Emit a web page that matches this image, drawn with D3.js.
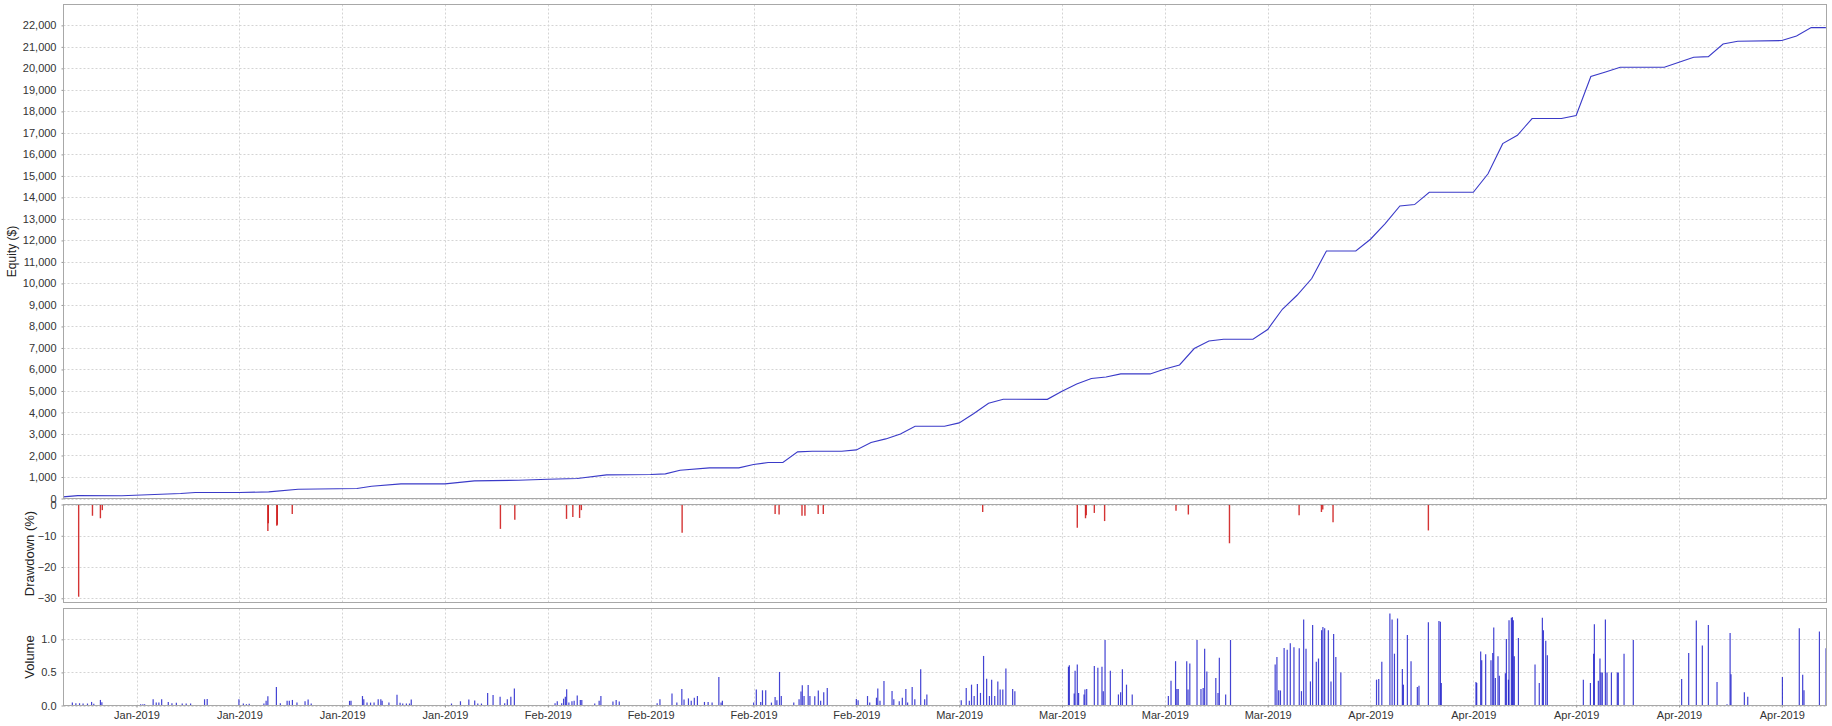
<!DOCTYPE html>
<html>
<head>
<meta charset="utf-8">
<script src="https://cdn.jsdelivr.net/npm/d3@7"></script>
<style>
  html, body { margin: 0; padding: 0; background: #fff; }
  svg { display: block; font-family: "Liberation Sans", Arial, sans-serif; }
</style>
</head>
<body>
<svg id="chart" width="1832" height="726"></svg>
<script>
// ---------------- DATA ----------------
const equityDates = ["2019-01-02","2019-01-03","2019-01-06","2019-01-10","2019-01-11","2019-01-14","2019-01-16","2019-01-18","2019-01-22","2019-01-23","2019-01-25","2019-01-28","2019-01-30","2019-02-02","2019-02-04","2019-02-06","2019-02-08","2019-02-11","2019-02-12","2019-02-13","2019-02-15","2019-02-17","2019-02-18","2019-02-19","2019-02-20","2019-02-21","2019-02-22","2019-02-24","2019-02-25","2019-02-26","2019-02-27","2019-02-28","2019-03-01","2019-03-03","2019-03-04","2019-03-05","2019-03-06","2019-03-07","2019-03-10","2019-03-11","2019-03-12","2019-03-13","2019-03-14","2019-03-15","2019-03-17","2019-03-18","2019-03-19","2019-03-20","2019-03-21","2019-03-22","2019-03-24","2019-03-25","2019-03-26","2019-03-27","2019-03-28","2019-03-29","2019-03-31","2019-04-01","2019-04-02","2019-04-03","2019-04-04","2019-04-05","2019-04-08","2019-04-09","2019-04-10","2019-04-11","2019-04-12","2019-04-14","2019-04-15","2019-04-16","2019-04-17","2019-04-18","2019-04-21","2019-04-22","2019-04-23","2019-04-24","2019-04-25","2019-04-26","2019-04-29","2019-04-30","2019-05-01","2019-05-02"];
const equityValues = [74,135,130,232,279,279,307,432,465,572,679,679,818,851,897,930,1098,1116,1144,1316,1423,1423,1581,1674,1674,2167,2199,2199,2259,2603,2771,3003,3361,3361,3515,3952,4430,4616,4610,4988,5328,5579,5653,5793,5793,6025,6211,6973,7327,7406,7406,7857,8800,9451,10228,11511,11511,12055,12785,13603,13668,14240,14240,15100,16500,16890,17666,17666,17806,19619,19833,20051,20051,20284,20516,20547,21134,21260,21293,21506,21897,21897];

// drawdown events: time in days since 2019-01-01 00:00 UTC, depth in %
const drawdownDays = [2.06,3.0,3.54,3.67,14.94,14.97,15.55,15.58,16.6,30.77,31.75,35.27,35.7,36.16,36.28,43.14,49.47,49.74,51.3,51.5,52.4,52.75,63.6,70.04,70.6,70.65,71.2,71.9,76.76,77.6,80.4,85.14,86.66,86.75,87.45,93.94];
const drawdownPct = [-29.5,-3.6,-4.4,-1.8,-8.5,-6.0,-6.8,-6.5,-3.0,-7.8,-4.9,-4.6,-4.0,-4.3,-1.8,-9.0,-3.0,-3.2,-3.6,-3.6,-3.0,-3.0,-2.4,-7.4,-4.4,-3.4,-2.7,-5.3,-2.0,-3.2,-12.4,-3.4,-2.4,-1.6,-5.7,-8.3];

// volume: time in days since 2019-01-01 00:00 UTC, volume in lots
const volumeDays = [1.63,1.87,2.12,2.36,2.66,2.94,3.09,3.54,3.64,6.28,6.43,6.55,7.13,7.34,7.52,7.71,8.16,8.41,8.71,9.11,9.38,9.68,10.63,10.81,12.97,13.27,13.48,13.67,14.67,14.82,14.94,15.52,15.79,16.25,16.4,16.61,16.92,17.47,17.68,17.89,20.5,20.6,21.38,21.47,21.69,21.93,22.17,22.45,22.63,22.72,23.18,23.73,23.94,24.12,24.37,24.58,24.7,27.44,28.05,28.62,29.02,29.23,29.48,29.9,30.27,30.75,31.06,31.24,31.48,31.72,34.49,34.64,34.94,35.07,35.19,35.28,35.43,35.64,35.79,36.0,36.21,36.31,37.19,37.49,37.61,38.43,38.65,38.86,41.44,41.63,42.45,42.78,43.12,43.27,43.57,43.76,43.97,44.18,44.66,44.91,45.18,45.64,45.79,45.88,48.01,48.19,48.49,48.61,48.83,49.22,49.47,49.59,49.77,49.89,50.74,51.1,51.23,51.32,51.44,51.72,51.84,52.17,52.41,52.57,52.78,53.02,55.0,55.12,55.76,55.91,56.37,56.46,56.61,56.88,57.43,57.55,57.92,58.13,58.37,58.49,58.8,58.98,59.38,59.65,59.8,62.14,62.48,62.69,62.84,63.02,63.24,63.45,63.66,63.87,64.06,64.21,64.42,64.63,64.79,64.97,65.18,65.64,65.79,69.44,69.5,69.83,69.89,70.04,70.13,70.5,70.56,70.68,71.2,71.44,71.72,71.81,71.93,72.29,72.84,72.99,73.11,73.39,73.78,76.24,76.42,76.73,76.82,76.91,77.49,77.58,77.7,78.19,78.46,78.61,78.71,78.86,79.47,79.62,79.71,80.14,80.47,83.51,83.63,83.75,83.87,84.12,84.33,84.54,84.79,85.15,85.3,85.45,85.61,85.91,86.06,86.31,86.46,86.67,86.76,86.88,87.13,87.31,87.49,87.64,87.98,90.41,90.56,90.77,91.32,91.47,91.63,91.84,92.17,92.24,92.51,92.76,93.19,93.3,93.94,94.66,94.76,94.82,97.18,97.23,97.5,97.57,97.84,98.2,98.32,98.39,98.5,98.68,98.77,99.18,99.25,99.39,99.43,99.59,99.66,99.72,99.79,100.07,101.2,101.49,101.7,101.77,101.93,102.04,104.49,104.97,105.19,105.24,105.51,105.62,105.69,105.78,105.99,106.1,106.4,106.8,106.87,107.26,107.89,111.18,111.66,112.18,112.59,113.0,113.59,114.27,114.48,114.54,115.45,115.68,118.04,119.19,119.42,119.51,120.56,121.01];
const volumeLots = [0.044,0.034,0.034,0.03,0.03,0.054,0.025,0.084,0.05,0.02,0.02,0.02,0.094,0.044,0.044,0.094,0.054,0.034,0.04,0.03,0.03,0.03,0.094,0.10,0.094,0.03,0.02,0.025,0.03,0.07,0.138,0.28,0.034,0.07,0.07,0.084,0.044,0.064,0.089,0.03,0.07,0.07,0.143,0.094,0.044,0.044,0.044,0.094,0.094,0.07,0.044,0.163,0.04,0.03,0.03,0.03,0.089,0.03,0.064,0.089,0.074,0.03,0.03,0.19,0.158,0.133,0.034,0.094,0.133,0.256,0.034,0.064,0.034,0.103,0.133,0.246,0.044,0.064,0.07,0.153,0.084,0.084,0.03,0.07,0.143,0.06,0.084,0.06,0.034,0.094,0.182,0.044,0.25,0.089,0.108,0.07,0.118,0.143,0.054,0.054,0.044,0.43,0.044,0.07,0.044,0.24,0.054,0.23,0.23,0.044,0.128,0.079,0.507,0.143,0.044,0.094,0.212,0.305,0.143,0.31,0.143,0.138,0.227,0.07,0.2,0.266,0.10,0.079,0.143,0.044,0.118,0.256,0.07,0.37,0.22,0.094,0.064,0.118,0.25,0.044,0.28,0.094,0.547,0.094,0.167,0.079,0.266,0.07,0.315,0.143,0.325,0.19,0.749,0.404,0.143,0.39,0.143,0.364,0.24,0.24,0.56,0.25,0.217,0.586,0.61,0.182,0.527,0.62,0.19,0.167,0.24,0.25,0.596,0.57,0.586,0.217,0.99,0.527,0.167,0.2,0.547,0.315,0.167,0.143,0.374,0.67,0.25,0.25,0.67,0.24,0.635,0.99,0.25,0.266,0.857,0.512,0.414,0.19,0.72,0.167,0.99,0.62,0.734,0.23,0.227,0.87,0.842,0.94,0.882,0.867,0.217,1.3,0.857,0.364,1.217,0.66,0.71,1.138,1.187,1.167,1.138,0.364,1.08,0.734,0.497,0.39,0.4,0.66,1.39,1.3,0.783,1.315,0.55,0.315,1.064,0.67,0.28,0.3,1.26,1.276,1.266,0.34,0.355,0.34,0.818,0.685,0.773,0.685,0.793,1.177,0.414,0.744,0.448,0.488,1.005,0.39,1.29,1.325,1.335,1.29,0.744,1.02,0.62,0.34,1.325,1.138,0.98,0.759,0.39,0.34,0.783,1.227,0.374,0.71,0.5,0.5,1.3,0.5,0.5,0.5,0.5,0.783,0.99,0.4,0.793,1.286,0.906,1.217,0.355,0.02,1.094,0.473,0.2,0.133,0.43,1.167,0.463,0.23,1.118,0.867];

const equityTicks = [0,1000,2000,3000,4000,5000,6000,7000,8000,9000,10000,11000,12000,13000,14000,15000,16000,17000,18000,19000,20000,21000,22000];
const drawdownTicks = [0,-10,-20,-30];
const volumeTicks = [0,0.5,1.0];

// ---------------- LAYOUT ----------------
const svg = d3.select("#chart");
const L = 63.5, R = 1826.5;
const P1 = {top: 4.5, bottom: 498.5};
const P2 = {top: 504.5, bottom: 602.5};
const P3 = {top: 608.5, bottom: 705.5};

const day0 = Date.UTC(2019, 0, 1);
const fromDays = d => new Date(day0 + d * 86400000);
const parse = d3.utcParse("%Y-%m-%d");

const x = d3.scaleUtc()
  .domain([new Date(Date.UTC(2019,0,2,0,40)), new Date(Date.UTC(2019,4,2,1,0))])
  .range([L, R]);
const y1 = d3.scaleLinear().domain([0, 22970]).range([P1.bottom, P1.top]);
const y2 = d3.scaleLinear().domain([-31.35, 0]).range([P2.bottom, P2.top]);
const y3 = d3.scaleLinear().domain([0, 1.466]).range([P3.bottom, P3.top]);

const xTicks = d3.utcMonday.range(new Date(Date.UTC(2019,0,7)), new Date(Date.UTC(2019,4,1)));

const gridColor = "#d4d4d4";
const borderColor = "#a8a8a8";

function panel(P, yScale, ticks, fmt, label, labelX, labelSize) {
  const g = svg.append("g");
  g.append("rect").attr("x", L).attr("y", P.top).attr("width", R - L).attr("height", P.bottom - P.top)
    .attr("fill", "#fff");
  g.selectAll(".vg").data(xTicks).join("line")
    .attr("x1", d => Math.round(x(d)) + 0.5).attr("x2", d => Math.round(x(d)) + 0.5)
    .attr("y1", P.top).attr("y2", P.bottom)
    .attr("stroke", gridColor).attr("stroke-width", 1).attr("stroke-dasharray", "2,2");
  g.selectAll(".hg").data(ticks).join("line")
    .attr("x1", L).attr("x2", R)
    .attr("y1", d => Math.round(yScale(d)) + 0.5).attr("y2", d => Math.round(yScale(d)) + 0.5)
    .attr("stroke", gridColor).attr("stroke-width", 1).attr("stroke-dasharray", "2,2");
  const ax = g.append("g").attr("transform", `translate(${L},0)`)
    .call(d3.axisLeft(yScale).tickValues(ticks).tickFormat(fmt).tickSizeInner(2).tickSizeOuter(0).tickPadding(5));
  ax.select(".domain").remove();
  ax.selectAll(".tick line").attr("stroke", "#999");
  ax.selectAll(".tick text").attr("font-size", 11).attr("fill", "#333")
    .attr("font-family", '"Liberation Sans", Arial, sans-serif');
  g.append("text")
    .attr("transform", `translate(${labelX},${(P.top + P.bottom) / 2}) rotate(-90)`)
    .attr("text-anchor", "middle").attr("dy", "0.35em")
    .attr("font-size", labelSize).attr("fill", "#222")
    .text(label);
  return g;
}

const g1 = panel(P1, y1, equityTicks, d3.format(","), "Equity ($)", 12, 12);
const g2 = panel(P2, y2, drawdownTicks, d3.format("d"), "Drawdown (%)", 29, 13);
const g3 = panel(P3, y3, volumeTicks, d3.format(".1f"), "Volume", 29, 13);

// equity line
const eq = equityDates.map((d, i) => ({t: parse(d), v: equityValues[i]}));
g1.append("path").datum(eq)
  .attr("fill", "none").attr("stroke", "#3a3ac8").attr("stroke-width", 1.1)
  .attr("d", d3.line().x(d => x(d.t)).y(d => y1(d.v)));

// drawdown bars
const dd = drawdownDays.map((d, i) => ({t: fromDays(d), v: drawdownPct[i]}));
g2.selectAll(".dd").data(dd).join("line")
  .attr("x1", d => x(d.t)).attr("x2", d => x(d.t))
  .attr("y1", y2(0)).attr("y2", d => y2(d.v))
  .attr("stroke", "#cc1010").attr("stroke-width", 1.4).attr("stroke-opacity", 0.85);

// volume bars
const vol = volumeDays.map((d, i) => ({t: fromDays(d), v: volumeLots[i]}));
g3.selectAll(".vb").data(vol).join("line")
  .attr("x1", d => x(d.t)).attr("x2", d => x(d.t))
  .attr("y1", y3(0)).attr("y2", d => y3(d.v))
  .attr("stroke", "#1414c8").attr("stroke-width", 1.2).attr("stroke-opacity", 0.8);

// panel borders
[P1, P2, P3].forEach(P => {
  svg.append("rect").attr("x", L).attr("y", P.top).attr("width", R - L).attr("height", P.bottom - P.top)
    .attr("fill", "none").attr("stroke", borderColor).attr("stroke-width", 1);
});

// x axis
const xa = svg.append("g").attr("transform", `translate(0,${P3.bottom})`)
  .call(d3.axisBottom(x).tickValues(xTicks).tickFormat(d3.utcFormat("%b-%Y")).tickSizeInner(2).tickSizeOuter(0).tickPadding(4));
xa.select(".domain").remove();
xa.selectAll(".tick line").attr("stroke", "#999");
xa.selectAll(".tick text").attr("font-size", 11).attr("fill", "#333")
  .attr("font-family", '"Liberation Sans", Arial, sans-serif');
</script>
</body>
</html>
